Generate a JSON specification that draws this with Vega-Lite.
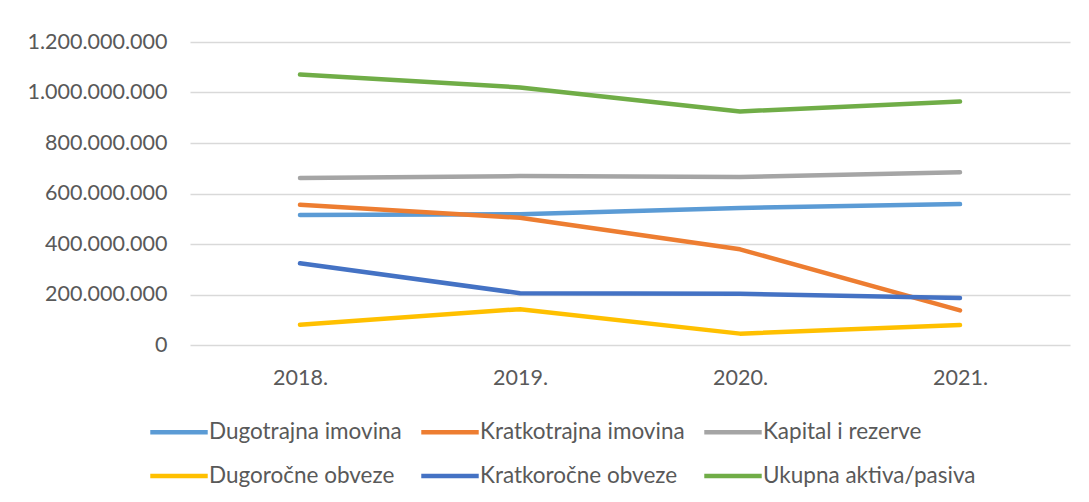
{
  "$schema": "https://vega.github.io/schema/vega-lite/v6.json",
  "width": 880,
  "height": 303,
  "autosize": {"type": "none"},
  "padding": {"left": 190, "top": 42, "right": 19, "bottom": 157},
  "background": "white",
  "config": {"view": {"stroke": null}, "font": "Lato"},
  "data": {
    "values": [
      {"year": "2018.", "series": "Dugotrajna imovina", "value": 515000000},
      {"year": "2019.", "series": "Dugotrajna imovina", "value": 518000000},
      {"year": "2020.", "series": "Dugotrajna imovina", "value": 543000000},
      {"year": "2021.", "series": "Dugotrajna imovina", "value": 558000000},
      {"year": "2018.", "series": "Kratkotrajna imovina", "value": 555000000},
      {"year": "2019.", "series": "Kratkotrajna imovina", "value": 504000000},
      {"year": "2020.", "series": "Kratkotrajna imovina", "value": 379000000},
      {"year": "2021.", "series": "Kratkotrajna imovina", "value": 137000000},
      {"year": "2018.", "series": "Kapital i rezerve", "value": 661000000},
      {"year": "2019.", "series": "Kapital i rezerve", "value": 669000000},
      {"year": "2020.", "series": "Kapital i rezerve", "value": 665000000},
      {"year": "2021.", "series": "Kapital i rezerve", "value": 684000000},
      {"year": "2018.", "series": "Dugoročne obveze", "value": 80000000},
      {"year": "2019.", "series": "Dugoročne obveze", "value": 142000000},
      {"year": "2020.", "series": "Dugoročne obveze", "value": 45000000},
      {"year": "2021.", "series": "Dugoročne obveze", "value": 79000000},
      {"year": "2018.", "series": "Kratkoročne obveze", "value": 324000000},
      {"year": "2019.", "series": "Kratkoročne obveze", "value": 205000000},
      {"year": "2020.", "series": "Kratkoročne obveze", "value": 203000000},
      {"year": "2021.", "series": "Kratkoročne obveze", "value": 186000000},
      {"year": "2018.", "series": "Ukupna aktiva/pasiva", "value": 1071000000},
      {"year": "2019.", "series": "Ukupna aktiva/pasiva", "value": 1020000000},
      {"year": "2020.", "series": "Ukupna aktiva/pasiva", "value": 925000000},
      {"year": "2021.", "series": "Ukupna aktiva/pasiva", "value": 964000000}
    ]
  },
  "mark": {"type": "line", "strokeWidth": 4.5, "strokeCap": "round", "strokeJoin": "round"},
  "encoding": {
    "x": {
      "field": "year",
      "type": "ordinal",
      "sort": null,
      "scale": {"type": "point", "padding": 0.5},
      "axis": {
        "title": null,
        "labelAngle": 0,
        "domain": false,
        "ticks": false,
        "grid": false,
        "labelFontSize": 21.5,
        "labelColor": "#595959",
        "labelPadding": 22
      }
    },
    "y": {
      "field": "value",
      "type": "quantitative",
      "scale": {"domain": [0, 1200000000]},
      "axis": {
        "title": null,
        "values": [0, 200000000, 400000000, 600000000, 800000000, 1000000000, 1200000000],
        "labelExpr": "replace(format(datum.value, ','), regexp(',', 'g'), '.')",
        "domain": false,
        "ticks": false,
        "gridColor": "#d9d9d9",
        "gridWidth": 1.5,
        "labelPadding": 23,
        "labelFontSize": 21.5,
        "labelColor": "#595959"
      }
    },
    "color": {
      "field": "series",
      "type": "nominal",
      "sort": null,
      "scale": {
        "domain": ["Dugotrajna imovina", "Kratkotrajna imovina", "Kapital i rezerve", "Dugoročne obveze", "Kratkoročne obveze", "Ukupna aktiva/pasiva"],
        "range": ["#5B9BD5", "#ED7D31", "#A5A5A5", "#FFC000", "#4472C4", "#70AD47"]
      },
      "legend": {
        "title": null,
        "orient": "none",
        "legendX": -42,
        "legendY": 359,
        "direction": "horizontal",
        "columns": 3,
        "symbolType": "stroke",
        "symbolSize": 3300,
        "symbolStrokeWidth": 4.5,
        "labelFontSize": 22.5,
        "labelColor": "#595959",
        "labelOffset": -1,
        "rowPadding": 1,
        "columnPadding": 10,
        "labelLimit": 400
      }
    }
  }
}
